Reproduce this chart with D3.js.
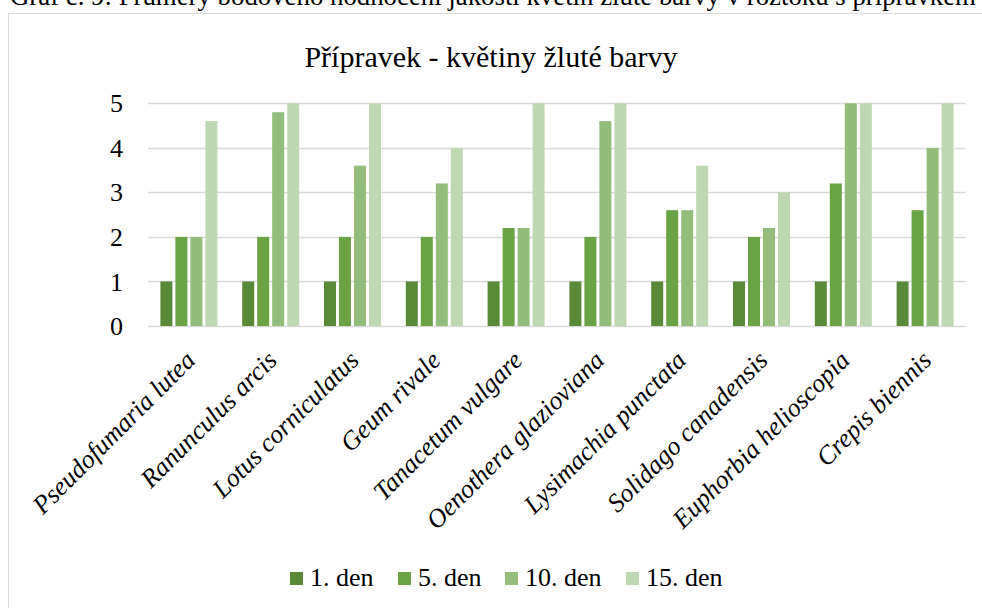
<!DOCTYPE html>
<html>
<head>
<meta charset="utf-8">
<script src="https://cdn.jsdelivr.net/npm/d3@7"></script>
<style>
  body { margin: 0; background: #fff; }
  svg { display: block; font-family: "Liberation Serif", "Times New Roman", serif; }
</style>
</head>
<body>
<div class="chart-container"></div>
<script>
const caption = "Graf č. 9: Průměry bodového hodnocení jakosti květin žluté barvy v roztoku s přípravkem";
const title = "Přípravek - květiny žluté barvy";

const categories = [
  "Pseudofumaria lutea", "Ranunculus arcis", "Lotus corniculatus", "Geum rivale",
  "Tanacetum vulgare", "Oenothera glazioviana", "Lysimachia punctata",
  "Solidago canadensis", "Euphorbia helioscopia", "Crepis biennis"
];
const seriesNames = ["1. den", "5. den", "10. den", "15. den"];
const day1 = [1, 1, 1, 1, 1, 1, 1, 1, 1, 1];
const day5 = [2, 2, 2, 2, 2.2, 2, 2.6, 2, 3.2, 2.6];
const day10 = [2, 4.8, 3.6, 3.2, 2.2, 4.6, 2.6, 2.2, 5, 4];
const day15 = [4.6, 5, 5, 4, 5, 5, 3.6, 3, 5, 5];
const yTicks = [0, 1, 2, 3, 4, 5];
const colors = ["#5a8a38", "#6ba243", "#94bd7c", "#c0d7b3"];

const seriesValues = [day1, day5, day10, day15];
const rows = categories.map((c, i) => ({
  name: c,
  values: seriesNames.map((s, j) => ({ series: s, value: seriesValues[j][i] }))
}));

const W = 982, H = 608;
const plot = { left: 148, right: 966, top: 103.3, bottom: 326 };

const svg = d3.select(".chart-container")
  .append("svg")
  .attr("width", W)
  .attr("height", H);

// chart frame, runs off the page on the right and bottom
svg.append("rect")
  .attr("x", 8.5).attr("y", 13.5)
  .attr("width", 990).attr("height", 620)
  .attr("fill", "none")
  .attr("stroke", "#d9d9d9")
  .attr("stroke-width", 1);

svg.append("text")
  .attr("x", 10).attr("y", 5)
  .style("font-size", "26.8px")
  .attr("fill", "#000")
  .text(caption);

svg.append("text")
  .attr("x", 491).attr("y", 67)
  .attr("text-anchor", "middle")
  .style("font-size", "30px")
  .attr("fill", "#000")
  .text(title);

const x0 = d3.scaleBand()
  .domain(categories)
  .range([plot.left, plot.right])
  .paddingInner(0.2665)
  .paddingOuter(0.13325);

const x1 = d3.scaleBand()
  .domain(seriesNames)
  .range([0, x0.bandwidth()])
  .paddingInner(0.2)
  .paddingOuter(0.1);

const y = d3.scaleLinear().domain([0, 5]).range([plot.bottom, plot.top]);
const color = d3.scaleOrdinal().domain(seriesNames).range(colors);

// gridlines
svg.append("g")
  .selectAll("line")
  .data(yTicks)
  .join("line")
  .attr("x1", plot.left).attr("x2", plot.right)
  .attr("y1", d => Math.round(y(d)) + 0.5)
  .attr("y2", d => Math.round(y(d)) + 0.5)
  .attr("stroke", "#d9d9d9")
  .attr("stroke-width", 1.5);

// y axis labels
const yAxis = svg.append("g")
  .attr("transform", `translate(${plot.left - 25},0)`)
  .call(d3.axisLeft(y).tickValues(yTicks).tickSize(0).tickPadding(0).tickFormat(d3.format("d")));
yAxis.select(".domain").remove();
yAxis.selectAll("text")
  .style("font-family", "Liberation Serif, serif")
  .style("font-size", "26px")
  .attr("fill", "#000")
  .attr("dy", "0.33em");

// bars
svg.append("g")
  .selectAll("g")
  .data(rows)
  .join("g")
  .attr("transform", d => `translate(${x0(d.name)},0)`)
  .selectAll("rect")
  .data(d => d.values)
  .join("rect")
  .attr("x", d => x1(d.series))
  .attr("width", x1.bandwidth())
  .attr("y", d => y(d.value))
  .attr("height", d => y(0) - y(d.value))
  .attr("fill", d => color(d.series));

// category labels, rotated
svg.append("g")
  .selectAll("text")
  .data(categories)
  .join("text")
  .attr("transform", d => `translate(${x0(d) + x0.bandwidth() / 2 - 6},${plot.bottom + 22}) rotate(-45)`)
  .attr("text-anchor", "end")
  .attr("dy", "0.75em")
  .style("font-size", "26px")
  .style("font-style", "italic")
  .attr("fill", "#000")
  .text(d => d);

// legend
const legendX = [290, 398, 505, 626];
const legend = svg.append("g")
  .selectAll("g")
  .data(seriesNames)
  .join("g")
  .attr("transform", (d, i) => `translate(${legendX[i]},572)`);
legend.append("rect")
  .attr("width", 13).attr("height", 13)
  .attr("fill", d => color(d));
legend.append("text")
  .attr("x", 20).attr("y", 14)
  .style("font-size", "26px")
  .attr("fill", "#000")
  .text(d => d);
</script>
</body>
</html>
